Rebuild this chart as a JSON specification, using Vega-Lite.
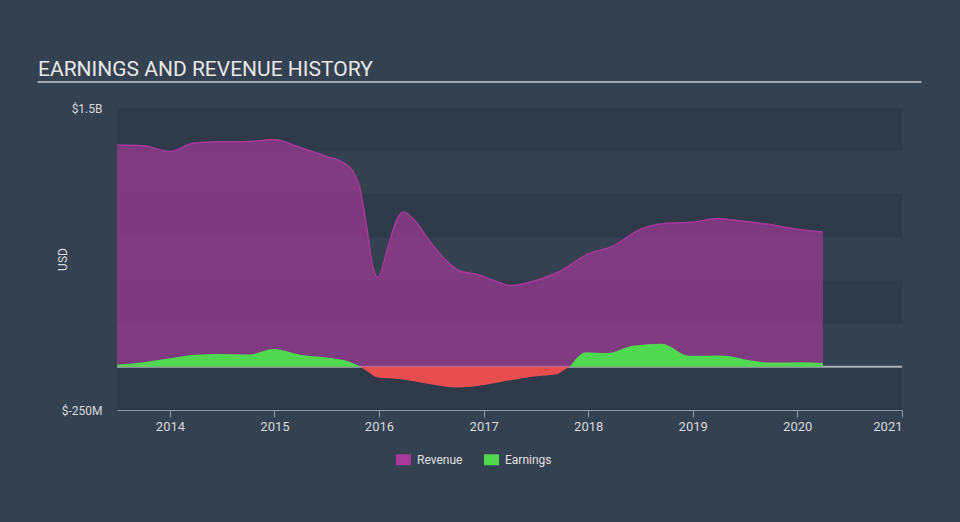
{
  "$schema": "https://vega.github.io/schema/vega-lite/v6.json",
  "width": 785,
  "height": 302,
  "autosize": {"type": "none"},
  "padding": {"left": 117, "top": 108, "right": 58, "bottom": 112},
  "background": "#344151",
  "config": {
    "view": {"stroke": null},
    "font": "Roboto",
    "axisX": {
      "format": "%Y",
      "formatType": "utc",
      "grid": false,
      "domainColor": "#8e99a6",
      "tickColor": "#8e99a6",
      "tickSize": 7,
      "labelPadding": 3,
      "labelColor": "#d6d9de",
      "labelFontSize": 13,
      "labelFont": "Roboto",
      "labelFlush": true
    },
    "axisY": {
      "domain": false,
      "ticks": false,
      "grid": false,
      "labelPadding": 15,
      "labelColor": "#d6d9de",
      "labelFontSize": 12,
      "labelFont": "Roboto",
      "titleColor": "#d6d9de",
      "titleFontSize": 12,
      "titleFontWeight": "normal",
      "titleFont": "Roboto",
      "titleX": -55,
      "titleY": 151,
      "titleAngle": -90,
      "titleBaseline": "middle",
      "titleAlign": "center"
    },
    "legend": {
      "orient": "none",
      "legendX": 279,
      "legendY": 344,
      "direction": "horizontal",
      "padding": 0,
      "symbolType": "M-1,-0.73L1,-0.73L1,0.73L-1,0.73Z",
      "symbolSize": 225,
      "symbolOpacity": 1,
      "symbolStrokeWidth": 0,
      "labelColor": "#e0e0e0",
      "labelFontSize": 12,
      "labelFont": "Roboto",
      "labelOffset": 6,
      "columnPadding": 21
    }
  },
  "title": {
    "text": "EARNINGS AND REVENUE HISTORY",
    "anchor": "start",
    "frame": "group",
    "dx": -79,
    "offset": 1,
    "fontSize": 21,
    "fontWeight": "normal",
    "font": "Roboto",
    "color": "#e8e8e8"
  },
  "datasets": {
    "bands": [
      {"lo": -250, "hi": 0},
      {"lo": 250, "hi": 500},
      {"lo": 750, "hi": 1000},
      {"lo": 1250, "hi": 1500}
    ],
    "rev": [
      {"date": "2013-06-30", "value": 1285},
      {"date": "2013-10-01", "value": 1281},
      {"date": "2014-01-01", "value": 1248},
      {"date": "2014-03-23", "value": 1296},
      {"date": "2014-06-15", "value": 1304},
      {"date": "2014-10-07", "value": 1306},
      {"date": "2014-12-28", "value": 1318},
      {"date": "2015-04-01", "value": 1271},
      {"date": "2015-07-01", "value": 1219},
      {"date": "2015-08-28", "value": 1184},
      {"date": "2015-10-01", "value": 1136},
      {"date": "2015-10-27", "value": 1029},
      {"date": "2015-11-22", "value": 779},
      {"date": "2015-12-10", "value": 583},
      {"date": "2015-12-29", "value": 518},
      {"date": "2016-01-30", "value": 680},
      {"date": "2016-03-04", "value": 855},
      {"date": "2016-03-26", "value": 897},
      {"date": "2016-05-01", "value": 855},
      {"date": "2016-06-30", "value": 719},
      {"date": "2016-10-12", "value": 554},
      {"date": "2016-12-10", "value": 535},
      {"date": "2017-02-28", "value": 487},
      {"date": "2017-04-05", "value": 471},
      {"date": "2017-06-03", "value": 487},
      {"date": "2017-09-24", "value": 554},
      {"date": "2017-12-28", "value": 651},
      {"date": "2018-03-28", "value": 700},
      {"date": "2018-07-01", "value": 797},
      {"date": "2018-09-20", "value": 830},
      {"date": "2019-01-04", "value": 839},
      {"date": "2019-03-30", "value": 860},
      {"date": "2019-06-18", "value": 845},
      {"date": "2019-09-20", "value": 826},
      {"date": "2019-12-20", "value": 801},
      {"date": "2020-03-31", "value": 781}
    ],
    "earn": [
      {"date": "2013-06-30", "value": 12, "series": "Earnings", "seg": "a"},
      {"date": "2013-10-01", "value": 27, "series": "Earnings", "seg": "a"},
      {"date": "2014-01-01", "value": 50, "series": "Earnings", "seg": "a"},
      {"date": "2014-03-31", "value": 70, "series": "Earnings", "seg": "a"},
      {"date": "2014-06-15", "value": 74, "series": "Earnings", "seg": "a"},
      {"date": "2014-10-07", "value": 72, "series": "Earnings", "seg": "a"},
      {"date": "2014-12-28", "value": 103, "series": "Earnings", "seg": "a"},
      {"date": "2015-04-01", "value": 70, "series": "Earnings", "seg": "a"},
      {"date": "2015-07-22", "value": 50, "series": "Earnings", "seg": "a"},
      {"date": "2015-09-18", "value": 31, "series": "Earnings", "seg": "a"},
      {"date": "2015-10-30", "value": 0, "series": "Earnings", "seg": "a"},
      {"date": "2015-10-30", "value": 0, "series": "Loss", "seg": "b"},
      {"date": "2015-11-22", "value": -27, "series": "Loss", "seg": "b"},
      {"date": "2015-12-28", "value": -62, "series": "Loss", "seg": "b"},
      {"date": "2016-03-10", "value": -70, "series": "Loss", "seg": "b"},
      {"date": "2016-06-25", "value": -99, "series": "Loss", "seg": "b"},
      {"date": "2016-10-01", "value": -120, "series": "Loss", "seg": "b"},
      {"date": "2016-12-15", "value": -110, "series": "Loss", "seg": "b"},
      {"date": "2017-03-01", "value": -88, "series": "Loss", "seg": "b"},
      {"date": "2017-06-23", "value": -56, "series": "Loss", "seg": "b"},
      {"date": "2017-09-15", "value": -43, "series": "Loss", "seg": "b"},
      {"date": "2017-10-10", "value": -17, "series": "Loss", "seg": "b"},
      {"date": "2017-10-28", "value": 0, "series": "Loss", "seg": "b"},
      {"date": "2017-10-28", "value": 0, "series": "Earnings", "seg": "c"},
      {"date": "2017-12-25", "value": 85, "series": "Earnings", "seg": "c"},
      {"date": "2018-03-10", "value": 80, "series": "Earnings", "seg": "c"},
      {"date": "2018-06-05", "value": 122, "series": "Earnings", "seg": "c"},
      {"date": "2018-09-15", "value": 134, "series": "Earnings", "seg": "c"},
      {"date": "2018-12-20", "value": 64, "series": "Earnings", "seg": "c"},
      {"date": "2019-04-10", "value": 66, "series": "Earnings", "seg": "c"},
      {"date": "2019-07-25", "value": 37, "series": "Earnings", "seg": "c"},
      {"date": "2019-10-01", "value": 25, "series": "Earnings", "seg": "c"},
      {"date": "2020-01-15", "value": 27, "series": "Earnings", "seg": "c"},
      {"date": "2020-03-31", "value": 21, "series": "Earnings", "seg": "c"}
    ]
  },
  "layer": [
    {
      "data": {"name": "bands"},
      "mark": {"type": "rect", "color": "#2e3a4a"},
      "encoding": {
        "y": {
          "field": "lo",
          "type": "quantitative",
          "title": "USD",
          "scale": {"domain": [-250, 1500], "nice": false, "zero": false},
          "axis": {"values": [-250, 1500], "labelExpr": "datum.value == 1500 ? '$1.5B' : '$-250M'"}
        },
        "y2": {"field": "hi"}
      }
    },
    {
      "data": {"values": [{}]},
      "mark": {"type": "rule", "color": "#a9afb6", "strokeWidth": 2},
      "encoding": {
        "y": {"datum": 0, "type": "quantitative", "title": "USD", "axis": {"values": [-250, 1500], "labelExpr": "datum.value == 1500 ? '$1.5B' : '$-250M'"}}
      }
    },
    {
      "data": {"name": "rev"},
      "mark": {"type": "area", "interpolate": "monotone", "fillOpacity": 0.65, "line": {"strokeWidth": 1.5, "color": "#b83aa6"}},
      "encoding": {
        "x": {
          "field": "date",
          "type": "temporal",
          "title": null,
          "scale": {
            "type": "utc",
            "nice": false,
            "domain": [
              {"year": 2013, "month": 6, "date": 30, "utc": true},
              {"year": 2021, "month": 1, "date": 1, "utc": true}
            ]
          },
          "axis": {
            "values": [
              {"year": 2014, "utc": true}, {"year": 2015, "utc": true},
              {"year": 2016, "utc": true}, {"year": 2017, "utc": true},
              {"year": 2018, "utc": true}, {"year": 2019, "utc": true},
              {"year": 2020, "utc": true}, {"year": 2021, "utc": true}
            ]
          }
        },
        "y": {"field": "value", "type": "quantitative", "title": "USD", "axis": {"values": [-250, 1500], "labelExpr": "datum.value == 1500 ? '$1.5B' : '$-250M'"}},
        "color": {
          "datum": "Revenue",
          "title": null,
          "scale": {"domain": ["Revenue", "Earnings", "Loss"], "range": ["#a8389a", "#50d950", "#e84d4f"]},
          "legend": {"values": ["Revenue", "Earnings"], "title": null}
        }
      }
    },
    {
      "data": {"name": "earn"},
      "mark": {"type": "area", "interpolate": "monotone", "opacity": 1},
      "encoding": {
        "x": {
          "field": "date",
          "type": "temporal",
          "title": null,
          "axis": {
            "values": [
              {"year": 2014, "utc": true}, {"year": 2015, "utc": true},
              {"year": 2016, "utc": true}, {"year": 2017, "utc": true},
              {"year": 2018, "utc": true}, {"year": 2019, "utc": true},
              {"year": 2020, "utc": true}, {"year": 2021, "utc": true}
            ]
          }
        },
        "y": {"field": "value", "type": "quantitative", "stack": null, "title": "USD", "axis": {"values": [-250, 1500], "labelExpr": "datum.value == 1500 ? '$1.5B' : '$-250M'"}},
        "color": {"field": "series", "type": "nominal", "title": null, "legend": {"values": ["Revenue", "Earnings"], "title": null}},
        "detail": {"field": "seg"}
      }
    },
    {
      "data": {"values": [{}]},
      "mark": {"type": "rule", "color": "#a4a9b0", "strokeWidth": 2},
      "encoding": {
        "x": {
          "datum": {"year": 2012, "month": 9, "date": 26, "utc": true},
          "type": "temporal",
          "title": null,
          "axis": {
            "values": [
              {"year": 2014, "utc": true}, {"year": 2015, "utc": true},
              {"year": 2016, "utc": true}, {"year": 2017, "utc": true},
              {"year": 2018, "utc": true}, {"year": 2019, "utc": true},
              {"year": 2020, "utc": true}, {"year": 2021, "utc": true}
            ]
          }
        },
        "x2": {"datum": {"year": 2021, "month": 3, "date": 10, "utc": true}},
        "y": {"datum": 1651, "type": "quantitative", "title": "USD", "axis": {"values": [-250, 1500], "labelExpr": "datum.value == 1500 ? '$1.5B' : '$-250M'"}}
      }
    }
  ]
}
